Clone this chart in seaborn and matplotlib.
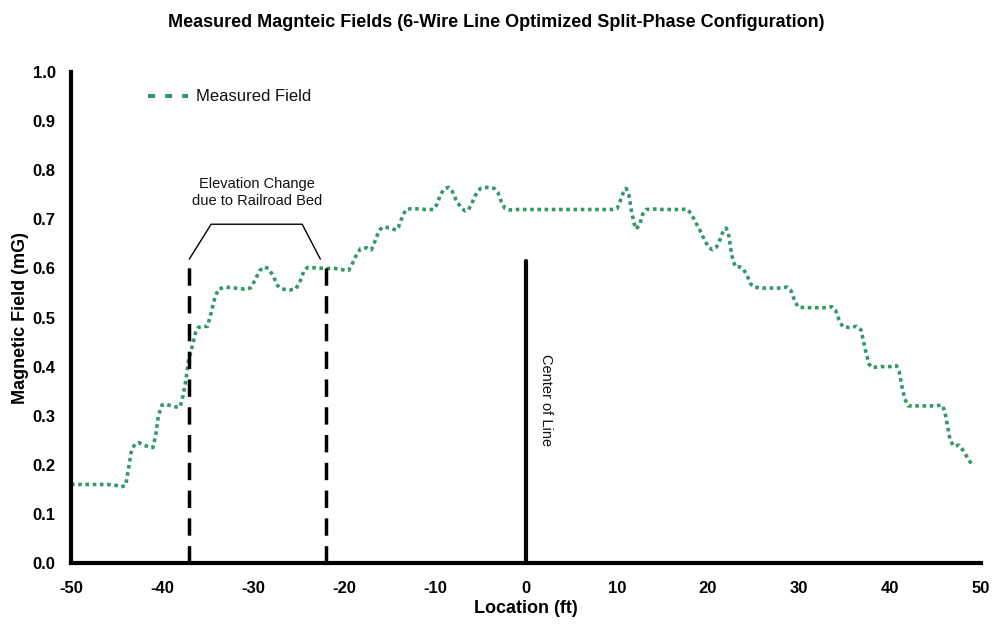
import matplotlib
matplotlib.use("Agg")
import matplotlib.pyplot as plt
import seaborn as sns
import pandas as pd

location_ft = [
    -50, -49, -48, -47, -46, -45, -44.5, -44, -43.7, -43.4, -43, -42.5, -42, -41.5, -41,
    -40.7, -40.4, -40, -39.5, -39, -38.5, -38, -37.7, -37.4, -37.1, -36.7, -36.3, -36,
    -35.5, -35, -34.6, -34.2, -33.8, -33, -32, -31, -30.3, -29.8, -29.3, -28.8, -28.3,
    -27.8, -27.3, -26.8, -26, -25.3, -24.8, -24.4, -24, -23, -22, -21, -20.5, -20, -19.5,
    -19.2, -18.7, -18.2, -17.5, -17, -16.6, -16.2, -15.8, -15, -14.3, -14, -13.6, -13.2,
    -12.5, -11, -10.2, -9.8, -9.4, -9, -8.5, -8.1, -7.7, -7.2, -6.7, -6.3, -5.9, -5.4,
    -5, -4.3, -3.5, -3.1, -2.7, -2.3, -1.8, -1, 0, 1, 2, 3, 4, 5, 6, 7, 8, 9, 9.5, 10,
    10.3, 10.7, 11, 11.3, 11.6, 11.9, 12.1, 12.5, 12.8, 13.2, 14, 15, 16, 17, 17.7, 18.2,
    18.6, 19.1, 19.6, 20.1, 20.5, 20.9, 21.3, 21.7, 22, 22.3, 22.6, 23, 23.5, 23.9, 24.3,
    24.7, 25, 26, 27, 28, 28.7, 29.1, 29.5, 29.9, 31, 32, 33, 33.6, 34, 34.4, 34.8, 35.5,
    36.3, 36.8, 37.1, 37.4, 37.7, 38, 39, 40, 40.7, 41, 41.3, 41.6, 42, 43, 44, 45, 45.7,
    46, 46.3, 46.6, 47, 47.6, 48, 48.5, 49,
]
measured_field_mg = [
    0.16, 0.16, 0.16, 0.16, 0.16, 0.158, 0.155, 0.158, 0.19, 0.225, 0.242, 0.245, 0.24, 0.237, 0.235,
    0.26, 0.30, 0.322, 0.323, 0.32, 0.318, 0.318, 0.34, 0.37, 0.41, 0.44, 0.47, 0.48,
    0.482, 0.482, 0.51, 0.54, 0.558, 0.562, 0.56, 0.558, 0.56, 0.575, 0.595, 0.603, 0.60,
    0.585, 0.565, 0.558, 0.556, 0.558, 0.575, 0.595, 0.602, 0.601, 0.60, 0.60, 0.598, 0.597, 0.596,
    0.605, 0.625, 0.64, 0.642, 0.638, 0.655, 0.675, 0.684, 0.683, 0.678, 0.685, 0.705, 0.72,
    0.722, 0.72, 0.72, 0.73, 0.75, 0.762, 0.765, 0.757, 0.74, 0.725, 0.717, 0.72, 0.735, 0.755,
    0.763, 0.765, 0.763, 0.755, 0.735, 0.722, 0.719, 0.72, 0.72, 0.72, 0.72, 0.72, 0.72, 0.72, 0.72, 0.72, 0.72, 0.72, 0.72, 0.722,
    0.735, 0.755, 0.763, 0.75, 0.715, 0.69, 0.68, 0.69, 0.71, 0.72, 0.721, 0.72, 0.72, 0.72, 0.721, 0.71,
    0.695, 0.678, 0.658, 0.642, 0.638, 0.643, 0.658, 0.678, 0.682, 0.665, 0.627, 0.603, 0.603, 0.598, 0.585,
    0.568, 0.562, 0.56, 0.56, 0.56, 0.562, 0.555, 0.535, 0.521, 0.52, 0.52, 0.52, 0.522, 0.515, 0.495, 0.481, 0.48,
    0.482, 0.475, 0.45, 0.425, 0.405, 0.398, 0.40, 0.40, 0.402, 0.39, 0.36, 0.335, 0.32, 0.32, 0.32, 0.32, 0.322,
    0.31, 0.28, 0.25, 0.238, 0.24, 0.23, 0.215, 0.20,
]

x_ticks = [-50, -40, -30, -20, -10, 0, 10, 20, 30, 40, 50]
y_ticks = [0.0, 0.1, 0.2, 0.3, 0.4, 0.5, 0.6, 0.7, 0.8, 0.9, 1.0]
railroad_bed_edges = [-37, -22]
center_of_line = 0
marker_line_top = 0.615

df = pd.DataFrame({"Location (ft)": location_ft, "Magnetic Field (mG)": measured_field_mg})

sns.set_theme(style="white")
plt.rcParams["font.family"] = ["Liberation Sans", "DejaVu Sans"]
plt.rcParams["text.color"] = "black"
plt.rcParams["axes.labelcolor"] = "black"

fig = plt.figure(figsize=(9.93, 6.30), dpi=100)
ax = fig.add_axes([0.0715, 0.1063, 0.9165, 0.7794])

green = "#339966"
sns.lineplot(data=df, x="Location (ft)", y="Magnetic Field (mG)", ax=ax, color=green,
             linewidth=2.6, linestyle=(0, (1.0, 1.0)), estimator=None, sort=False,
             label="Measured Field")
ax.lines[0].set_dash_capstyle("butt")

# reference lines
for xe in railroad_bed_edges:
    ax.plot([xe, xe], [0, marker_line_top], color="black", linewidth=2.5,
            linestyle=(0, (5, 3)), zorder=3)
ax.plot([center_of_line, center_of_line], [0, marker_line_top], color="black",
        linewidth=3, zorder=3)

# bracket annotation
ax.plot([-37, -34.6, -24.6, -22.6], [0.619, 0.690, 0.690, 0.619], color="black", linewidth=1)
ax.text(-29.6, 0.755, "Elevation Change\ndue to Railroad Bed", ha="center", va="center",
        fontsize=10.5, color="#111111", linespacing=1.25)
ax.text(2.2, 0.332, "Center of Line", rotation=-90, ha="center", va="center",
        fontsize=10.5, color="#111111")

ax.set_xlim(-50, 50)
ax.set_ylim(0, 1.0)
ax.set_xticks(x_ticks)
ax.set_yticks(y_ticks)
ax.set_xticklabels([str(t) for t in x_ticks], fontweight="bold", fontsize=12)
ax.set_yticklabels([f"{t:.1f}" for t in y_ticks], fontweight="bold", fontsize=12)
ax.set_xlabel("Location (ft)", fontweight="bold", fontsize=13, labelpad=3)
ax.set_ylabel("Magnetic Field (mG)", fontweight="bold", fontsize=13, labelpad=3)

for s in ["top", "right"]:
    ax.spines[s].set_visible(False)
for s in ["left", "bottom"]:
    ax.spines[s].set_linewidth(3)
    ax.spines[s].set_color("black")
ax.tick_params(axis="both", direction="out", length=4, width=2.5, color="black",
               labelcolor="black")
ax.tick_params(axis="x", pad=9)
ax.tick_params(axis="y", pad=7)

leg = ax.legend(loc="upper left", bbox_to_anchor=(0.068, 0.995), frameon=False,
                fontsize=12, handlelength=2.4, handletextpad=0.5)
for ln in leg.get_lines():
    ln.set_linewidth(3)
    ln.set_linestyle((0, (1.7, 2.4)))
    ln.set_dash_capstyle("butt")
for t in leg.get_texts():
    t.set_color("#111111")

fig.suptitle("Measured Magnteic Fields (6-Wire Line Optimized Split-Phase Configuration)",
             fontweight="bold", fontsize=13, y=0.978, color="black")

fig.savefig("out.png", dpi=100)
